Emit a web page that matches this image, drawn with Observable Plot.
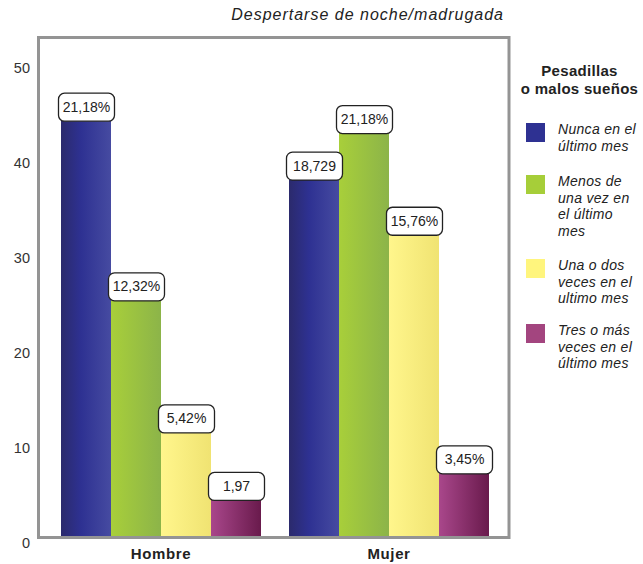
<!DOCTYPE html>
<html>
<head>
<meta charset="utf-8">
<script src="https://cdn.jsdelivr.net/npm/d3@7"></script>
<script src="https://cdn.jsdelivr.net/npm/@observablehq/plot@0.6"></script>
<style>
  body { margin: 0; background: #fff; font-family: "Liberation Sans", Arial, sans-serif; }
  #wrap { position: relative; width: 643px; height: 564px; }
  #title { position: absolute; right: 139px; top: 6px; font-style: italic; font-size: 16px; color: #222; letter-spacing: 1px; white-space: nowrap; }
  #legend { position: absolute; left: 516px; top: 62px; width: 127px; }
  #legend .lt { text-align: center; font-weight: bold; font-size: 15px; line-height: 18px; color: #222; letter-spacing: 0.3px; }
  .item { position: absolute; left: 10px; }
  .sw { position: absolute; left: 0; top: 0; width: 19px; height: 19px; }
  .tx { position: absolute; left: 32px; top: -2px; font-style: italic; font-size: 14px; line-height: 16.5px; color: #222; white-space: nowrap; letter-spacing: 0.3px; }
</style>
</head>
<body>
<div id="wrap">
  <div id="title"></div>
  <div id="legend"></div>
</div>
<script>
const chartTitle = "Despertarse de noche/madrugada";
const legendTitle = ["Pesadillas", "o malos sueños"];
const groups = ["Hombre", "Mujer"];
const series = ["Nunca en el último mes", "Menos de una vez en el último mes", "Una o dos veces en el ultimo mes", "Tres o más veces en el último mes"];
const legendLines = [["Nunca en el", "último mes"], ["Menos de", "una vez en", "el último", "mes"], ["Una o dos", "veces en el", "ultimo mes"], ["Tres o más", "veces en el", "último mes"]];
const hombreValues = [43.8, 24.9, 11.0, 3.9];
const mujerValues = [37.6, 42.5, 31.8, 6.7];
const hombreLabels = ["21,18%", "12,32%", "5,42%", "1,97"];
const mujerLabels = ["18,729", "21,18%", "15,76%", "3,45%"];
const swatchColors = ["#2e3192", "#a6ce39", "#fff57d", "#a3457f"];
const gradStops = [
  [["0", "#2b2a6c"], ["0.4", "#2e3192"], ["1", "#464ba1"]],
  [["0", "#a8cf3a"], ["1", "#8cb449"]],
  [["0", "#fff68c"], ["1", "#f0e372"]],
  [["0", "#a9478b"], ["1", "#691a4c"]]
];
const yTicks = [0, 10, 20, 30, 40, 50];
const legendTops = [61, 113, 197, 262];

const valuesByGroup = [hombreValues, mujerValues];
const labelsByGroup = [hombreLabels, mujerLabels];
const rows = groups.flatMap((g, gi) => series.map((s, si) => ({
  group: g, series: s, si, value: valuesByGroup[gi][si], label: labelsByGroup[gi][si]
})));

const boxSymbol = {
  draw(ctx) {
    const w = 56, h = 28, r = 6, x0 = -w / 2, y0 = -h / 2, x1 = w / 2, y1 = h / 2;
    ctx.moveTo(x0 + r, y0);
    ctx.lineTo(x1 - r, y0);
    ctx.arcTo(x1, y0, x1, y0 + r, r);
    ctx.lineTo(x1, y1 - r);
    ctx.arcTo(x1, y1, x1 - r, y1, r);
    ctx.lineTo(x0 + r, y1);
    ctx.arcTo(x0, y1, x0, y1 - r, r);
    ctx.lineTo(x0, y0 + r);
    ctx.arcTo(x0, y0, x0 + r, y0, r);
    ctx.closePath();
  }
};

const W = 643, H = 564, ML = 39, MR = 134, MT = 38, MB = 27;
const padIn = 0.12, padOut = 0.09;
// distance from the plot's left edge to the first facet (to place the y axis labels)
const facetOffset = (W - ML - MR) / (2 - padIn + 2 * padOut) * padOut;

const chart = Plot.plot({
  width: W, height: H,
  marginLeft: ML, marginRight: MR, marginTop: MT, marginBottom: MB,
  style: { fontFamily: "'Liberation Sans', Arial, sans-serif", background: "transparent", overflow: "visible" },
  fx: { domain: groups, paddingInner: padIn, paddingOuter: padOut, label: null },
  x: { domain: series, padding: 0, axis: null },
  y: { domain: [0, 52.5], label: null },
  marks: [
    ...series.map((s, i) => Plot.barY(rows.filter(d => d.si === i), {
      fx: "group", x: "series", y: "value", fill: `url(#grad${i})`
    })),
    Plot.dot(rows, { fx: "group", x: "series", y: "value", symbol: boxSymbol, r: 10, fill: "white", stroke: "#222", strokeWidth: 1.3, dy: -14 }),
    Plot.text(rows, { fx: "group", x: "series", y: "value", text: "label", dy: -14, fontSize: 14, fill: "#222" }),
    Plot.axisY({ ticks: yTicks, tickSize: 0, tickPadding: 10 + facetOffset, dy: 6, fontSize: 14.5, fill: "#333", label: null }),
    Plot.axisFx({ anchor: "bottom", tickSize: 0, tickPadding: 11, fontSize: 15, fontWeight: "bold", fill: "#222", label: null })
  ]
});

// gradient defs
const ns = "http://www.w3.org/2000/svg";
const defs = document.createElementNS(ns, "defs");
gradStops.forEach((stops, i) => {
  const lg = document.createElementNS(ns, "linearGradient");
  lg.setAttribute("id", `grad${i}`);
  lg.setAttribute("x1", "0"); lg.setAttribute("x2", "1");
  lg.setAttribute("y1", "0"); lg.setAttribute("y2", "0");
  stops.forEach(([o, c]) => {
    const st = document.createElementNS(ns, "stop");
    st.setAttribute("offset", o); st.setAttribute("stop-color", c);
    lg.appendChild(st);
  });
  defs.appendChild(lg);
});
chart.insertBefore(defs, chart.firstChild);

// frame around the whole plotting area
const frame = document.createElementNS(ns, "rect");
frame.setAttribute("x", ML - 0.5);
frame.setAttribute("y", MT - 0.5);
frame.setAttribute("width", W - ML - MR + 0.5);
frame.setAttribute("height", H - MT - MB + 1);
frame.setAttribute("fill", "none");
frame.setAttribute("stroke", "#949494");
frame.setAttribute("stroke-width", "3");
chart.appendChild(frame);

// letter spacing for the group labels
chart.querySelectorAll("[aria-label='fx-axis tick label'] text, [aria-label='fx-axis tick label']").forEach(el => el.setAttribute("letter-spacing", "0.6"));

chart.style.position = "absolute";
chart.style.left = "0"; chart.style.top = "0";
const wrap = document.getElementById("wrap");
wrap.insertBefore(chart, wrap.firstChild);

document.getElementById("title").textContent = chartTitle;

const legend = document.getElementById("legend");
legend.innerHTML = `<div class="lt">${legendTitle.join("<br>")}</div>`;
series.forEach((s, i) => {
  const it = document.createElement("div");
  it.className = "item";
  it.style.top = legendTops[i] + "px";
  it.innerHTML = `<div class="sw" style="background:${swatchColors[i]}"></div><div class="tx">${legendLines[i].join("<br>")}</div>`;
  legend.appendChild(it);
});
</script>
</body>
</html>
